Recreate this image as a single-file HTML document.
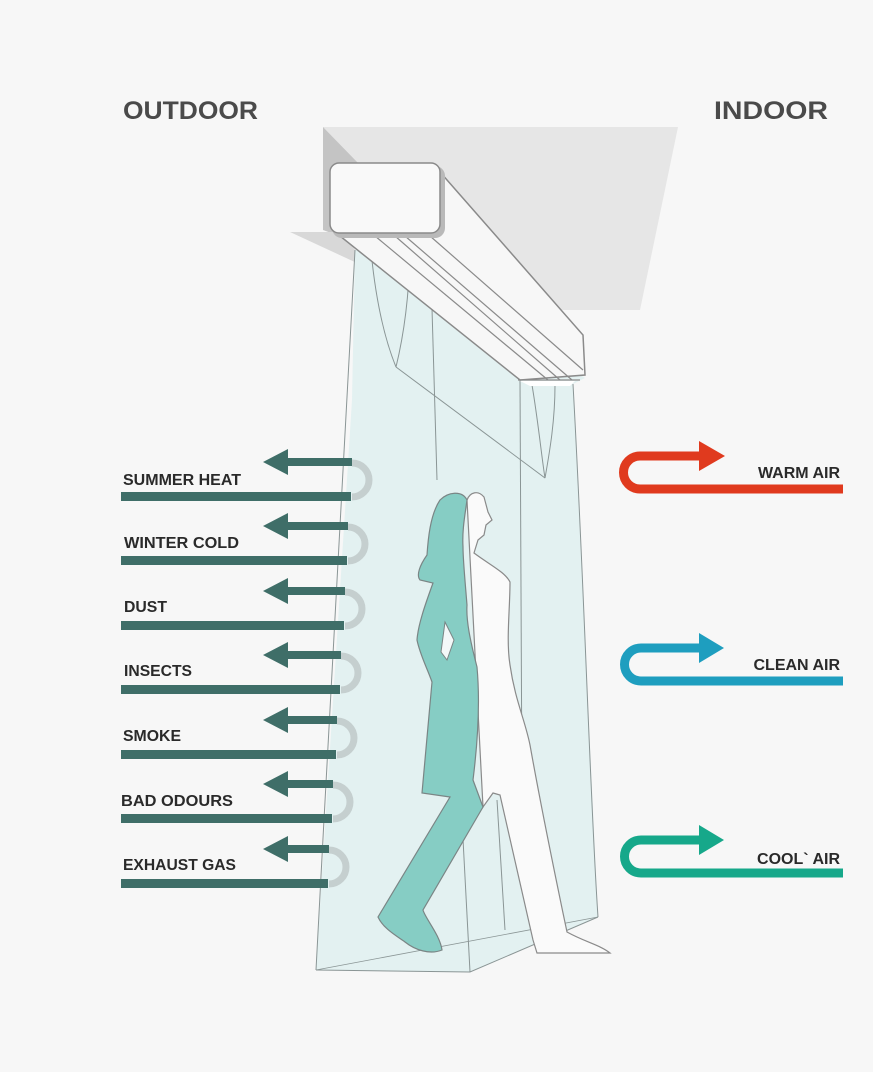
<!DOCTYPE html>
<html><head><meta charset="utf-8"><style>
html,body{margin:0;padding:0;background:#f7f7f7;}
svg{display:block;}
text{font-family:"Liberation Sans",sans-serif;font-weight:bold;}
</style></head><body>
<svg width="873" height="1072" viewBox="0 0 873 1072" xmlns="http://www.w3.org/2000/svg">
<rect width="873" height="1072" fill="#f7f7f7"/>
<text x="123" y="119" font-size="25" fill="#4a4a4a" textLength="135" lengthAdjust="spacingAndGlyphs">OUTDOOR</text>
<text x="714" y="119" font-size="25" fill="#4a4a4a" textLength="114" lengthAdjust="spacingAndGlyphs">INDOOR</text>

<!-- ceiling -->
<polygon points="323,127 678,127 640,310 560,310 360,165" fill="#e6e6e6"/>
<polygon points="323,127 360,165 345,238 323,230" fill="#c4c4c4"/>
<polygon points="290,232 340,232 372,270" fill="#d8d8d8"/>

<!-- curtain -->
<polygon points="355,250 380,240 585,378 573,384 598,917 470,972 316,970 352,400" fill="#e3f1f1"/>
<g fill="none" stroke="#8a9595" stroke-width="1">
<path d="M355,250 C348,400 330,700 316,970"/>
<path d="M573,384 C585,600 590,800 598,917"/>
<path d="M316,970 L470,972 L598,917"/>
<path d="M316,970 L598,917" stroke-width="0.8"/>
<path d="M370,240 C375,300 385,340 396,367"/>
<path d="M396,367 C405,330 410,290 410,240"/>
<path d="M430,240 L437,480"/>
<path d="M396,367 L545,478"/>
<path d="M520,380 L522,800"/>
<path d="M532,385 C538,420 542,460 545,478 C550,450 555,420 555,385"/>
<path d="M470,972 L462,820"/>
<path d="M505,930 L497,800"/>
</g>

<!-- AC bar -->
<polygon points="340,236 440,180 440,172 583,335 585,375 520,380" fill="#f7f7f7" stroke="#8a8a8a" stroke-width="1.5"/>
<g stroke="#8a8a8a" stroke-width="1.2" fill="none">
<path d="M375,236 L548,380"/>
<path d="M395,236 L560,380"/>
<path d="M405,236 L572,380"/>
<path d="M430,236 L583,370"/>
<path d="M518,380 L580,380"/>
</g>
<polygon points="520,381 575,381 570,386 530,386" fill="#ffffff"/>
<!-- AC box -->
<rect x="332" y="166" width="113" height="72" rx="10" fill="#b9b9b9"/>
<rect x="330" y="163" width="110" height="70" rx="9" fill="#f9f9f9" stroke="#8a8a8a" stroke-width="1.5"/>

<!-- person white body -->
<path d="M467,500 C470,492 478,490 484,497 L488,512 L492,520 L486,525 L484,535 L478,540 L474,553 C490,565 505,572 510,582 C510,610 506,640 510,665 C515,700 525,720 530,745 C538,790 552,860 563,913 L567,932 C585,942 600,945 610,953 L537,953 L533,940 L500,795 L493,793 L483,807 Z" fill="#fafafa" stroke="#8a8a8a" stroke-width="1.2"/>
<!-- person teal -->
<path d="M467,500 C462,490 448,492 440,500 C430,515 428,540 427,555 C420,565 416,575 420,580 L433,583 C425,605 418,625 417,640 C420,655 428,670 432,682 L422,793 L450,797 L378,917 C383,928 395,935 405,942 C415,950 430,955 442,950 C440,935 425,918 423,910 L483,807 L473,780 C478,740 480,700 477,667 C470,640 466,620 467,605 C465,580 463,560 463,547 C462,530 465,515 467,500 Z" fill="#86cdc4" stroke="#7a8585" stroke-width="1.2"/>
<polygon points="445,622 454,640 447,660 441,652" fill="#f3f8f8" stroke="#7a8585" stroke-width="1"/>

<!-- outdoor arrows -->
<g fill="none" stroke="#c5cfcf" stroke-width="7">
<path d="M352,463 A17,17 0 0 1 352,497"/>
<path d="M348,527 A17,17 0 0 1 348,561"/>
<path d="M345,592 A17,17 0 0 1 345,626"/>
<path d="M341,656 A17,17 0 0 1 341,690"/>
<path d="M337,721 A17,17 0 0 1 337,755"/>
<path d="M333,785 A17,17 0 0 1 333,819"/>
<path d="M329,850 A17,17 0 0 1 329,884"/>
</g>
<g fill="#3f6e68">
<rect x="121" y="492" width="230" height="9"/><rect x="286" y="458" width="66" height="8"/><polygon points="263,462 288,449 288,475"/>
<rect x="121" y="556" width="226" height="9"/><rect x="286" y="522" width="62" height="8"/><polygon points="263,526 288,513 288,539"/>
<rect x="121" y="621" width="223" height="9"/><rect x="286" y="587" width="59" height="8"/><polygon points="263,591 288,578 288,604"/>
<rect x="121" y="685" width="219" height="9"/><rect x="286" y="651" width="55" height="8"/><polygon points="263,655 288,642 288,668"/>
<rect x="121" y="750" width="215" height="9"/><rect x="286" y="716" width="51" height="8"/><polygon points="263,720 288,707 288,733"/>
<rect x="121" y="814" width="211" height="9"/><rect x="286" y="780" width="47" height="8"/><polygon points="263,784 288,771 288,797"/>
<rect x="121" y="879" width="207" height="9"/><rect x="286" y="845" width="43" height="8"/><polygon points="263,849 288,836 288,862"/>
</g>
<g font-size="16" fill="#2a2a2a">
<text x="123" y="485" textLength="118" lengthAdjust="spacingAndGlyphs">SUMMER HEAT</text>
<text x="124" y="548" textLength="115" lengthAdjust="spacingAndGlyphs">WINTER COLD</text>
<text x="124" y="612" textLength="43" lengthAdjust="spacingAndGlyphs">DUST</text>
<text x="124" y="676" textLength="68" lengthAdjust="spacingAndGlyphs">INSECTS</text>
<text x="123" y="741" textLength="58" lengthAdjust="spacingAndGlyphs">SMOKE</text>
<text x="121" y="806" textLength="112" lengthAdjust="spacingAndGlyphs">BAD ODOURS</text>
<text x="123" y="870" textLength="113" lengthAdjust="spacingAndGlyphs">EXHAUST GAS</text>
</g>

<!-- indoor arrows -->
<g fill="none" stroke-width="9">
<path d="M702,456 L640,456 A16.5,16.5 0 0 0 640,489 L843,489" stroke="#e03a1e"/>
<path d="M702,648 L641,648 A16.5,16.5 0 0 0 641,681 L843,681" stroke="#1e9ebf"/>
<path d="M702,840 L641,840 A16.5,16.5 0 0 0 641,873 L843,873" stroke="#16a88a"/>
</g>
<polygon points="699,441 725,456 699,471" fill="#e03a1e"/>
<polygon points="699,633 724,648 699,663" fill="#1e9ebf"/>
<polygon points="699,825 724,840 699,855" fill="#16a88a"/>
<g font-size="16" fill="#2a2a2a" text-anchor="end">
<text x="840" y="478">WARM AIR</text>
<text x="840" y="670">CLEAN AIR</text>
<text x="840" y="864">COOL` AIR</text>
</g>
</svg>
</body></html>
